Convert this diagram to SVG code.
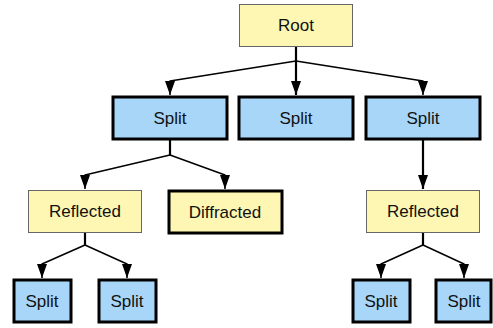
<svg xmlns="http://www.w3.org/2000/svg" width="493" height="328" viewBox="0 0 493 328">
<style>
.y{fill:#fdf7b3;stroke:#666;stroke-width:1}
.yb{fill:#fdf7b3;stroke:#000;stroke-width:3}
.b{fill:#a7d6f9;stroke:#000;stroke-width:3}
text{font-family:"Liberation Sans",Arial,sans-serif;font-size:17px;fill:#111;text-anchor:middle;dominant-baseline:central}
.c{stroke:#000;stroke-width:1.5;fill:none;stroke-linejoin:round}
.v{stroke:#000;stroke-width:2.2;fill:none}
</style>
<defs>
<marker id="a" markerUnits="userSpaceOnUse" markerWidth="14" markerHeight="10" refX="14" refY="5" orient="auto">
<path d="M0,0 L14,5 L0,10 z" fill="#000"/>
</marker>
</defs>
<rect width="493" height="328" fill="#fff"/>
<g id="connectors">
<path class="v" d="M296,46 V61"/>
<path class="c" d="M296,61 L170,81 V95" marker-end="url(#a)"/>
<path class="v" d="M296,61 V95" marker-end="url(#a)"/>
<path class="c" d="M296,61 L423,81 V95" marker-end="url(#a)"/>
<path class="v" d="M170,139 V155"/>
<path class="c" d="M170,155 L85,175 V189" marker-end="url(#a)"/>
<path class="c" d="M170,155 L225,175 V189" marker-end="url(#a)"/>
<path class="v" d="M423,139 V189" marker-end="url(#a)"/>
<path class="v" d="M85,232 V245"/>
<path class="c" d="M85,245 L42,264 V278" marker-end="url(#a)"/>
<path class="c" d="M85,245 L127,264 V278" marker-end="url(#a)"/>
<path class="v" d="M423,232 V245"/>
<path class="c" d="M423,245 L381,264 V278" marker-end="url(#a)"/>
<path class="c" d="M423,245 L464,264 V278" marker-end="url(#a)"/>
</g>
<g id="root"><rect class="y" x="239.5" y="4.5" width="113" height="42"/><text x="296" y="25">Root</text></g>
<g id="split1"><rect class="b" x="113" y="97" width="114" height="42"/><text x="170" y="118">Split</text></g>
<g id="split2"><rect class="b" x="239" y="97" width="114" height="42"/><text x="296" y="118">Split</text></g>
<g id="split3"><rect class="b" x="366" y="97" width="114" height="42"/><text x="423" y="118">Split</text></g>
<g id="reflected1"><rect class="y" x="28.5" y="190.5" width="113" height="42"/><text x="85" y="211">Reflected</text></g>
<g id="diffracted"><rect class="yb" x="169" y="191" width="113" height="42"/><text x="225" y="212">Diffracted</text></g>
<g id="reflected2"><rect class="y" x="366.5" y="190.5" width="113" height="42"/><text x="423" y="211">Reflected</text></g>
<g id="split4"><rect class="b" x="14" y="280" width="57" height="42"/><text x="42" y="301">Split</text></g>
<g id="split5"><rect class="b" x="99" y="280" width="57" height="42"/><text x="127" y="301">Split</text></g>
<g id="split6"><rect class="b" x="353" y="280" width="57" height="42"/><text x="381" y="301">Split</text></g>
<g id="split7"><rect class="b" x="436" y="280" width="55" height="42"/><text x="464" y="301">Split</text></g>
</svg>
